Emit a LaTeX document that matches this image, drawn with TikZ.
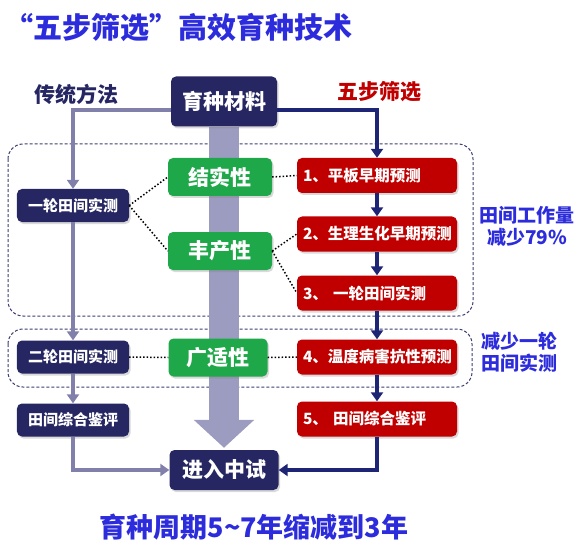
\documentclass[tikz,border=0pt]{standalone}
\usepackage{fontspec}
\setmainfont{Noto Sans CJK SC}
\usetikzlibrary{arrows.meta,shadows,backgrounds}
\definecolor{titleblue}{HTML}{2C2CDC}
\definecolor{navybox}{HTML}{262663}
\definecolor{redbox}{HTML}{C00000}
\definecolor{greenbox}{HTML}{1FA84A}
\definecolor{flowgray}{HTML}{8080AA}
\definecolor{bargray}{HTML}{9C9CC0}
\definecolor{navyline}{HTML}{1F2575}

\begin{document}
\begin{tikzpicture}[x=1bp,y=-1bp,
  box/.style={rounded corners=5bp,inner sep=0pt,text=white,
    drop shadow={shadow xshift=1.5bp,shadow yshift=-2bp,opacity=0.3}},
  mainbox/.style={box,fill=navybox,minimum width=106bp,minimum height=50bp,
    font=\fontsize{21bp}{23bp}\selectfont\bfseries},
  tradbox/.style={box,fill=navybox,minimum width=112bp,minimum height=33bp,
    font=\fontsize{15bp}{17bp}\selectfont\bfseries},
  traitbox/.style={box,fill=greenbox,minimum width=104bp,minimum height=38bp,
    font=\fontsize{21bp}{23bp}\selectfont\bfseries},
  stepbox/.style={box,fill=redbox,text width=148bp,align=left,inner xsep=6bp,
    minimum height=35bp,font=\fontsize{15.5bp}{17bp}\selectfont\bfseries},
  grayflow/.style={flowgray,line width=3.5bp,-{Triangle[length=9bp,width=12bp]}},
  navyflow/.style={navyline,line width=3.5bp,-{Triangle[length=9bp,width=12bp]}},
  dotline/.style={black,line width=1.5bp,dotted},
  frame/.style={navybox!90,line width=1bp,dash pattern=on 3bp off 2bp,rounded corners=15bp},
  sidelabel/.style={text=titleblue,align=center,font=\fontsize{19bp}{22bp}\selectfont\bfseries}]

  \useasboundingbox (0,0) rectangle (580,550);

  % headings
  \node[anchor=west,text=titleblue,font=\fontsize{29bp}{31bp}\selectfont\bfseries]
    (title) at (1,27) {“五步筛选”高效育种技术};
  \node[text=navybox,font=\fontsize{21bp}{23bp}\selectfont\bfseries] (tradhead) at (76,94) {传统方法};
  \node[text=redbox,font=\fontsize{21bp}{23bp}\selectfont\bfseries] (stephead) at (379,92) {五步筛选};

  % boxes
  \node[mainbox] (mat) at (224,101.5) {育种材料};

  \node[tradbox] (trial1) at (73,205.5) {一轮田间实测};
  \node[tradbox] (trial2) at (73,357) {二轮田间实测};
  \node[tradbox] (eval) at (73,420) {田间综合鉴评};

  \node[traitbox] (fruit) at (220,177) {结实性};
  \node[traitbox] (yield) at (220,251) {丰产性};
  \node[traitbox,minimum width=99bp] (adapt) at (218,357.5) {广适性};

  \node[stepbox] (s1) at (377,175.5) {1、平板早期预测};
  \node[stepbox] (s2) at (377,234) {2、生理生化早期预测};
  \node[stepbox] (s3) at (377,293) {3、 一轮田间实测};
  \node[stepbox] (s4) at (377,357) {4、温度病害抗性预测};
  \node[stepbox] (s5) at (377,419) {5、 田间综合鉴评};

  \node[mainbox,minimum width=109bp,minimum height=40bp] (pilot) at (224,470) {进入中试};

  % side notes
  \node[sidelabel] (note1) at (527,226) {田间工作量\\减少79\%};
  \node[sidelabel] (note2) at (519,352.5) {减少一轮\\田间实测};

  \begin{scope}[on background layer]
    \draw[frame] (8,144) rectangle (473,316);
    \draw[frame] (8,329) rectangle (472,387);
    \draw[bargray,line width=30bp,-{Triangle[width=59bp,length=28bp]},shorten >=2bp]
      (mat.south) -- (pilot.north);
  \end{scope}

  % traditional route
  \coordinate (tl) at (73,110);
  \coordinate (bl) at (73,470);
  \draw[grayflow] (mat.west|-tl) -- (tl) -- (trial1.north);
  \draw[grayflow] (trial1.south) -- (trial2.north);
  \draw[grayflow] (trial2.south) -- (eval.north);
  \draw[grayflow] (eval.south) -- (bl) -- (pilot.west);

  % five-step route
  \coordinate (tr) at (377,110);
  \coordinate (br) at (377,470);
  \draw[navyflow] (mat.east|-tr) -- (tr) -- (s1.north);
  \foreach \a/\b in {s1/s2,s2/s3,s3/s4,s4/s5}
    \draw[navyflow] (\a.south) -- (\b.north);
  \draw[navyflow] (s5.south) -- (br) -- (pilot.east);

  % trait links
  \draw[dotline] (trial1.east) -- (fruit.west);
  \draw[dotline] (trial1.east) -- (yield.west);
  \draw[dotline] (fruit.east) -- (s1.west);
  \draw[dotline] (yield.east) -- (s2.west);
  \draw[dotline] (yield.east) -- (s3.west);
  \draw[dotline] (trial2.east) -- (adapt.west);
  \draw[dotline] (adapt.east) -- (s4.west);

  % summary
  \node[text=titleblue,font=\fontsize{27bp}{29bp}\selectfont\bfseries] (summary) at (254,527)
    {育种周期5\textasciitilde7年缩减到3年};
\end{tikzpicture}
\end{document}
